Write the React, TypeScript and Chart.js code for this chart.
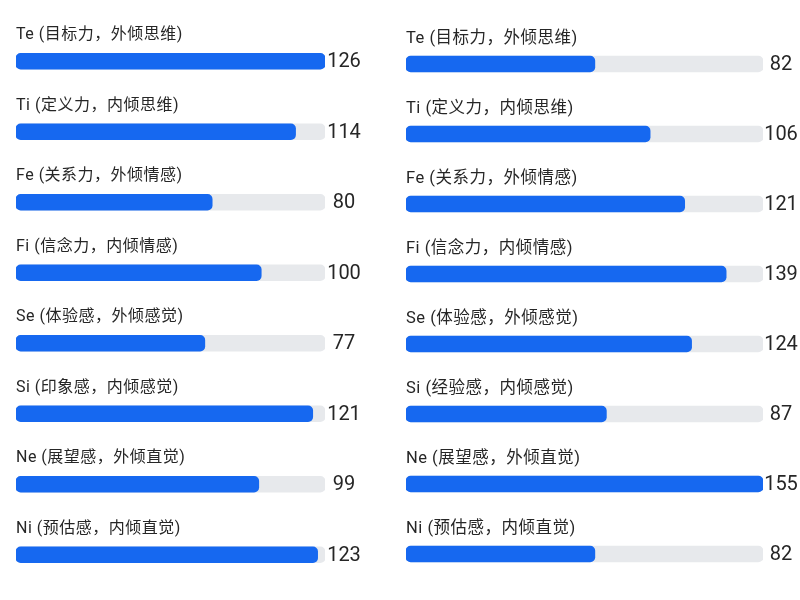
import React, { useEffect, useRef } from "react";
import { Chart, registerables } from "chart.js";

Chart.register(...registerables);

const leftLabels = [
  "Te (目标力，外倾思维)",
  "Ti (定义力，内倾思维)",
  "Fe (关系力，外倾情感)",
  "Fi (信念力，内倾情感)",
  "Se (体验感，外倾感觉)",
  "Si (印象感，内倾感觉)",
  "Ne (展望感，外倾直觉)",
  "Ni (预估感，内倾直觉)",
];
const leftValues = [126, 114, 80, 100, 77, 121, 99, 123];

const rightLabels = [
  "Te (目标力，外倾思维)",
  "Ti (定义力，内倾思维)",
  "Fe (关系力，外倾情感)",
  "Fi (信念力，内倾情感)",
  "Se (体验感，外倾感觉)",
  "Si (经验感，内倾感觉)",
  "Ne (展望感，外倾直觉)",
  "Ni (预估感，内倾直觉)",
];
const rightValues = [82, 106, 121, 139, 124, 87, 155, 82];

const BLUE = "#1668f0";
const TRACK = "#e7e9ec";
const TEXT = "#262626";
const FONT = 'Roboto, "Noto Sans CJK SC", "Noto Sans", sans-serif';

type PanelProps = {
  labels: string[];
  values: number[];
  padding: { left: number; right: number; top: number; bottom: number };
  labelOffset: number;
  labelSize: number;
  valueGap: number;
  bg: string;
};

function Panel({ labels, values, padding, labelOffset, labelSize, valueGap, bg }: PanelProps) {
  const ref = useRef<HTMLCanvasElement | null>(null);
  useEffect(() => {
    if (!ref.current) return;
    const max = Math.max(...values);
    const track = values.map(() => max);
    const textPlugin = {
      id: "textPlugin",
      afterDatasetsDraw(chart: any) {
        const { ctx, chartArea, scales } = chart;
        const ys = scales.y;
        ctx.save();
        ctx.fillStyle = TEXT;
        labels.forEach((lab, i) => {
          const y = ys.getPixelForValue(i);
          ctx.font = `${labelSize}px ${FONT}`;
          ctx.textAlign = "left";
          ctx.textBaseline = "middle";
          (ctx as any).letterSpacing = "0.5px";
          ctx.fillText(lab, chartArea.left, y - labelOffset);
          (ctx as any).letterSpacing = "0px";
          ctx.font = `20px ${FONT}`;
          ctx.textAlign = "center";
          ctx.fillText(String(values[i]), chartArea.right + valueGap, y + 1);
        });
        ctx.restore();
      },
    };
    const chart = new Chart(ref.current, {
      type: "bar",
      data: {
        labels,
        datasets: [
          {
            data: values,
            backgroundColor: BLUE,
            borderRadius: 5,
            borderSkipped: false,
            barThickness: 16,
            grouped: false,
            order: 1,
          } as any,
          {
            data: track,
            backgroundColor: TRACK,
            borderRadius: 5,
            borderSkipped: false,
            barThickness: 16,
            grouped: false,
            order: 2,
          } as any,
        ],
      },
      options: {
        indexAxis: "y",
        responsive: false,
        maintainAspectRatio: false,
        animation: false,
        layout: { padding },
        plugins: {
          legend: { display: false },
          tooltip: { enabled: false },
        },
        scales: {
          x: { display: false, min: 0, max },
          y: { display: false },
        },
      },
      plugins: [textPlugin],
    });
    return () => chart.destroy();
  }, []);
  return (
    <div style={{ width: 400, height: 600, background: bg }}>
      <canvas ref={ref} width={400} height={600} style={{ display: "block" }} />
    </div>
  );
}

export default function App() {
  return (
    <div
      style={{
        position: "fixed",
        left: 0,
        top: 0,
        width: 800,
        height: 600,
        display: "flex",
        background: "#ffffff",
      }}
    >
      <Panel
        labels={leftLabels}
        values={leftValues}
        padding={{ left: 16, right: 75, top: 26, bottom: 10 }}
        labelOffset={26}
        labelSize={16}
        valueGap={19}
        bg="#ffffff"
      />
      <Panel
        labels={rightLabels}
        values={rightValues}
        padding={{ left: 6, right: 37, top: 29, bottom: 11 }}
        labelOffset={25}
        labelSize={16.5}
        valueGap={18}
        bg="#ffffff"
      />
    </div>
  );
}
